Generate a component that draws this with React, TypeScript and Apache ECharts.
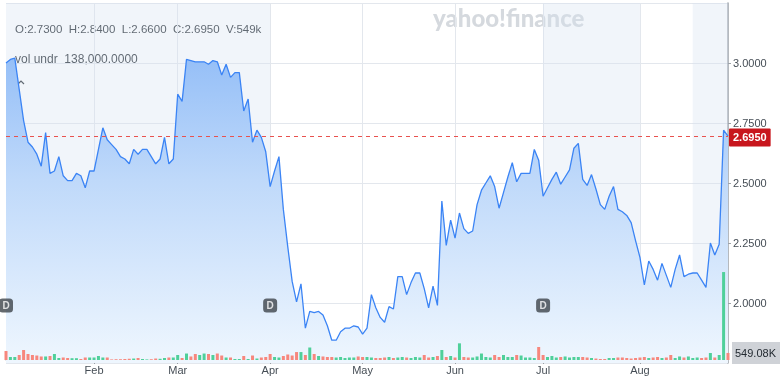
import React, { useEffect, useRef } from 'react';
import * as echarts from 'echarts';

const monthNames = ['Jan', 'Feb', 'Mar', 'Apr', 'May', 'Jun', 'Jul', 'Aug'];
const tradingDaysPerMonth = [20, 19, 21, 21, 21, 20, 22, 21];

const closePrices = [
  3.0, 3.015, 3.02, 2.89, 2.76, 2.67, 2.65, 2.62, 2.57, 2.71,
  2.54, 2.55, 2.61, 2.53, 2.51, 2.51, 2.54, 2.53, 2.48, 2.55,
  2.55, 2.64, 2.73, 2.68, 2.66, 2.64, 2.61, 2.6, 2.58, 2.64,
  2.62, 2.64, 2.64, 2.61, 2.58, 2.6, 2.69, 2.58, 2.6, 2.87,
  2.84, 3.015, 3.01, 3.005, 3.005, 3.005, 2.995, 3.01, 3.005, 2.95,
  2.995, 2.94, 2.96, 2.96, 2.8, 2.85, 2.67, 2.72, 2.69, 2.63,
  2.485, 2.55, 2.61, 2.39, 2.235, 2.09, 2.005, 2.08, 1.895, 1.965,
  1.96, 1.965, 1.95, 1.905, 1.845, 1.845, 1.88, 1.895, 1.895, 1.905,
  1.9, 1.87, 1.895, 2.035, 1.98, 1.94, 1.92, 1.985, 1.975, 2.11,
  2.11, 2.035, 2.085, 2.125, 2.125, 2.06, 1.98, 2.07, 1.99, 2.425,
  2.24, 2.345, 2.27, 2.375, 2.31, 2.29, 2.3, 2.41, 2.47, 2.5,
  2.53, 2.485, 2.395, 2.46, 2.525, 2.585, 2.505, 2.54, 2.54, 2.54,
  2.64, 2.595, 2.445, 2.48, 2.515, 2.545, 2.495, 2.525, 2.555, 2.645,
  2.665, 2.515, 2.49, 2.535, 2.475, 2.41, 2.39, 2.445, 2.485, 2.39,
  2.38, 2.365, 2.335, 2.26, 2.19, 2.075, 2.175, 2.14, 2.095, 2.165,
  2.115, 2.065, 2.14, 2.2, 2.11, 2.12, 2.125, 2.125, 2.095, 2.065,
  2.25, 2.2, 2.245, 2.72, 2.695,
];

const volumesK = [
  700, 235, 235, 390, 780, 470, 390, 350, 275, 275,
  310, 470, 155, 195, 155, 140, 140, 80, 195, 195,
  195, 310, 195, 195, 45, 60, 60, 80, 95, 115,
  155, 80, 45, 60, 115, 95, 155, 195, 195, 390,
  155, 505, 275, 470, 390, 505, 470, 390, 505, 350,
  195, 195, 80, 80, 310, 80, 350, 115, 195, 235,
  470, 235, 195, 310, 430, 350, 620, 620, 390, 975,
  470, 310, 275, 235, 235, 195, 235, 155, 195, 195,
  275, 235, 235, 195, 155, 155, 195, 235, 155, 195,
  235, 195, 155, 235, 195, 390, 195, 235, 310, 780,
  235, 310, 195, 1300, 235, 195, 195, 275, 505, 235,
  195, 390, 235, 390, 235, 235, 390, 350, 195, 195,
  155, 1015, 390, 235, 310, 195, 235, 275, 195, 235,
  235, 235, 195, 155, 115, 80, 80, 155, 155, 195,
  195, 155, 115, 155, 195, 235, 155, 195, 235, 155,
  195, 390, 155, 275, 195, 275, 155, 195, 155, 195,
  545, 195, 390, 6860, 549.08,
];

const lastClose = 2.695;
const lastVolumeLabel = '549.08K';
const lastVolumeK = 549.08;
const dividendDays = ['Jan 1', 'Apr 1', 'Jul 1'];
const dividendMarkerLevel = 1.99;
const shadedRanges = [
  ['Jan 1', 'Apr 1'],
  ['Jul 1', 'Aug 1'],
  ['Aug 13', 'Aug 21'],
];
const priceAxis = { min: 1.75, max: 3.25, interval: 0.25 };
const volumeAxisMaxK = 7800;
const ohlcText = 'O:2.7300  H:2.8400  L:2.6600  C:2.6950  V:549k';
const volUnderText = 'vol undr  138,000.0000';
const watermarkText = 'yahoo!finance';

const categories: string[] = [];
monthNames.forEach((m, mi) => {
  for (let k = 1; k <= tradingDaysPerMonth[mi]; k++) categories.push(`${m} ${k}`);
});

const FONT = '"Liberation Sans", Arial, Helvetica, sans-serif';
const GREEN = '#4fd09a';
const RED = '#f7877d';
const DASH_RED = '#e8524f';
const isMonthStart = (index: number, value: string) => index > 0 && / 1$/.test(value);

const staticGraphics: any[] = [
  {
    id: 'wm',
    type: 'text',
    left: 433,
    top: 5,
    style: { text: watermarkText, fill: '#d5d9de', font: '900 24px Lato, "Noto Sans", sans-serif' },
    silent: true,
  },
  { id: 'b1', type: 'rect', shape: { x: 12, y: 20, width: 253, height: 17, r: 3 }, style: { fill: 'rgba(255,255,255,0.85)' } },
  { id: 't1', type: 'text', x: 15, y: 28.5, style: { text: ohlcText, fill: '#232a31', font: `11.5px ${FONT}`, verticalAlign: 'middle' } },
  { id: 'b2', type: 'rect', shape: { x: 12, y: 50, width: 126, height: 17, r: 3 }, style: { fill: 'rgba(255,255,255,0.85)' } },
  { id: 't2', type: 'text', x: 15, y: 58.5, style: { text: volUnderText, fill: '#232a31', font: `12px ${FONT}`, verticalAlign: 'middle' } },
  { id: 'b3', type: 'rect', shape: { x: 12, y: 75, width: 18, height: 19, r: 3 }, style: { fill: 'rgba(255,255,255,0.85)' } },
  { id: 'chev', type: 'polyline', shape: { points: [[18, 84], [21, 81], [24, 84]] }, style: { stroke: '#232a31', lineWidth: 1.2, fill: 'none' } },
  {
    id: 'zb',
    type: 'rect',
    shape: { x: 346, y: 336, width: 41, height: 15, r: 2 },
    style: { fill: '#ffffff', shadowBlur: 4, shadowColor: 'rgba(0,0,0,0.18)' },
  },
  { id: 'zs', type: 'line', shape: { x1: 366.5, y1: 337, x2: 366.5, y2: 350 }, style: { stroke: '#e3e6ea', lineWidth: 1 } },
  { id: 'zm', type: 'text', x: 356, y: 343.5, style: { text: '−', fill: '#232a31', font: `bold 13px ${FONT}`, align: 'center', verticalAlign: 'middle' } },
  { id: 'zp', type: 'text', x: 377, y: 343.5, style: { text: '+', fill: '#232a31', font: `bold 13px ${FONT}`, align: 'center', verticalAlign: 'middle' } },
];

export default function App() {
  const ref = useRef<HTMLDivElement>(null);
  useEffect(() => {
    if (!ref.current) return;
    const chart = echarts.init(ref.current, undefined, { renderer: 'svg' });
    const volColors = volumesK.map((_, i) =>
      i > 0 && closePrices[i] >= closePrices[i - 1] ? GREEN : RED
    );
    chart.setOption({
      animation: false,
      textStyle: { fontFamily: FONT },
      grid: [
        { left: 6, right: 52, top: 3, bottom: 15 },
        { left: 6, right: 52, top: 260, bottom: 18 },
      ],
      xAxis: [
        {
          type: 'category',
          gridIndex: 0,
          data: categories,
          boundaryGap: false,
          axisLine: { show: false },
          axisTick: { show: false },
          axisLabel: { show: false },
          splitLine: { show: true, interval: isMonthStart, lineStyle: { color: '#e3e7ed', width: 1 } },
        },
        {
          type: 'category',
          gridIndex: 1,
          data: categories,
          boundaryGap: false,
          axisLine: { show: true, lineStyle: { color: '#c3c8cf', width: 1 } },
          axisTick: { show: true, interval: isMonthStart, length: 4, lineStyle: { color: '#9aa0a6' } },
          axisLabel: {
            show: true,
            interval: isMonthStart,
            formatter: (v: string) => v.split(' ')[0],
            color: '#464e56',
            fontSize: 11,
            margin: 4,
            fontFamily: FONT,
          },
          splitLine: { show: false },
        },
      ],
      yAxis: [
        {
          type: 'value',
          gridIndex: 0,
          position: 'right',
          min: priceAxis.min,
          max: priceAxis.max,
          interval: priceAxis.interval,
          axisLine: { show: true, lineStyle: { color: '#9ca2a9', width: 1.5 } },
          axisTick: { show: true, length: 3, lineStyle: { color: '#9ca2a9' } },
          axisLabel: {
            show: true,
            showMinLabel: false,
            showMaxLabel: false,
            formatter: (v: number) => v.toFixed(4),
            color: '#464e56',
            fontSize: 11,
            margin: 5,
            fontFamily: FONT,
          },
          splitLine: { show: true, lineStyle: { color: '#e3e7ed', width: 1 } },
        },
        {
          type: 'value',
          gridIndex: 1,
          min: 0,
          max: volumeAxisMaxK,
          show: false,
          splitLine: { show: false },
        },
      ],
      series: [
        {
          type: 'line',
          xAxisIndex: 0,
          yAxisIndex: 0,
          data: closePrices,
          symbol: 'none',
          z: 2,
          lineStyle: { color: '#3b84f5', width: 1.3 },
          areaStyle: {
            origin: 'start',
            opacity: 1,
            color: new echarts.graphic.LinearGradient(0, 0, 0, 360, [
              { offset: 0, color: '#82b3f6' },
              { offset: 0.5, color: '#bfd9fa' },
              { offset: 1, color: '#eef6fe' },
            ], true),
          },
          markArea: {
            silent: true,
            itemStyle: { color: 'rgba(214,226,240,0.35)' },
            data: shadedRanges.map(([a, b]) => [{ xAxis: a }, { xAxis: b }]),
          },
          markLine: {
            silent: true,
            symbol: ['none', 'none'],
            lineStyle: { color: 'rgba(0,0,0,0)', width: 0 },
            label: {
              show: true,
              position: 'end',
              formatter: lastClose.toFixed(4),
              color: '#ffffff',
              fontWeight: 'bold',
              fontSize: 11,
              fontFamily: FONT,
              backgroundColor: '#c8161d',
              padding: [4, 4, 3, 4],
              borderRadius: 1,
              distance: 1,
            },
            data: [{ yAxis: lastClose }],
          },
        },
        {
          type: 'scatter',
          xAxisIndex: 0,
          yAxisIndex: 0,
          data: dividendDays.map((d) => [d, dividendMarkerLevel]),
          symbol: 'roundRect',
          symbolSize: [14, 14],
          itemStyle: { color: '#3d434a' },
          label: { show: true, position: 'inside', formatter: 'D', color: '#ffffff', fontWeight: 'bold', fontSize: 10, fontFamily: FONT },
          z: 6,
        },
        {
          type: 'bar',
          xAxisIndex: 1,
          yAxisIndex: 1,
          z: 4,
          data: volumesK.map((v, i) => ({ value: v, itemStyle: { color: volColors[i], opacity: 1 } })),
          barWidth: 3,
          markLine: {
            silent: true,
            symbol: ['none', 'none'],
            lineStyle: { color: 'rgba(0,0,0,0)', width: 0 },
            label: {
              show: true,
              position: 'end',
              formatter: lastVolumeLabel,
              color: '#232a31',
              fontSize: 11,
              fontFamily: FONT,
              backgroundColor: '#cfd2d7',
              padding: [6, 8, 5, 3],
              distance: 4,
            },
            data: [{ yAxis: lastVolumeK }],
          },
        },
      ],
      graphic: staticGraphics,
    });

    // dashed last-close line, positioned through the chart's own scales
    const yPix = chart.convertToPixel({ yAxisIndex: 0 }, lastClose) as number;
    const xStart = chart.convertToPixel({ xAxisIndex: 0 }, categories[0]) as number;
    const xEnd = chart.convertToPixel({ xAxisIndex: 0 }, categories[categories.length - 1]) as number;
    const yLine = Math.round(yPix) + 0.5;
    chart.setOption({
      graphic: [
        ...staticGraphics,
        {
          id: 'lastCloseLine',
          type: 'line',
          z: 50,
          silent: true,
          shape: { x1: xStart, y1: yLine, x2: xEnd, y2: yLine },
          style: { stroke: DASH_RED, lineWidth: 1, lineDash: [4, 4] },
        },
      ],
    });
    return () => chart.dispose();
  }, []);
  return <div ref={ref} style={{ position: 'fixed', left: 0, top: 0, width: 780, height: 378 }} />;
}
